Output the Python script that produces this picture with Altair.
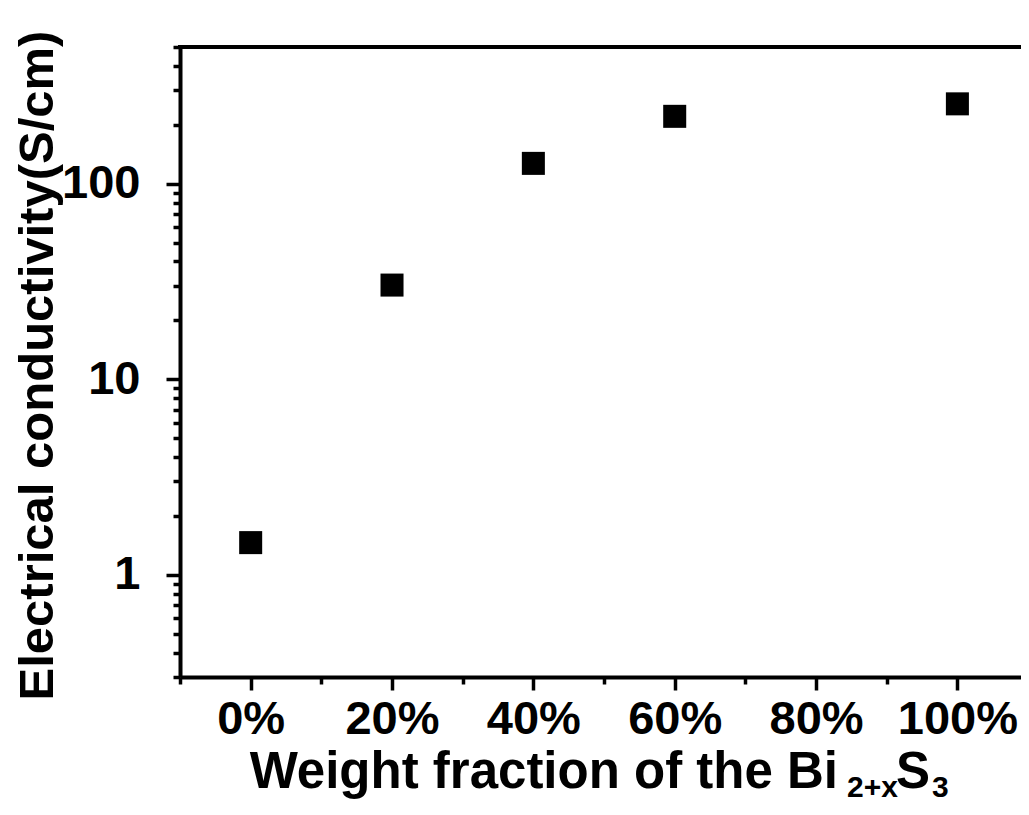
import altair as alt
import pandas as pd

# Data
fractions = [0, 20, 40, 60, 100]            # weight fraction of Bi2+xS3 (%)
conductivity = [1.46, 30.3, 127, 221, 256]  # S/cm

x_major = [0, 20, 40, 60, 80, 100]
x_minor = [-10, 10, 30, 50, 70, 90]
y_major = [1, 10, 100]
y_minor = [0.3, 0.4, 0.5, 0.6, 0.7, 0.8, 0.9,
           2, 3, 4, 5, 6, 7, 8, 9,
           20, 30, 40, 50, 60, 70, 80, 90,
           200, 300, 400, 500]

y_title = "Electrical conductivity(S/cm)"
title_main = "Weight fraction of the Bi"
title_sub1 = "2+x"
title_s = "S"
title_sub2 = "3"

FONT = "Liberation Sans"
W, H = 841, 630

df = pd.DataFrame({"x": fractions, "y": conductivity})

xscale = alt.Scale(domain=[-10, 109], nice=False, zero=False)
yscale = alt.Scale(type="log", domain=[0.3, 500], nice=False)

points = alt.Chart(df).mark_point(
    shape="square", filled=True, color="black", size=530, opacity=1
).encode(
    x=alt.X("x:Q", scale=xscale, axis=alt.Axis(
        orient="bottom", values=x_major, format="d",
        labelExpr="datum.value + '%'",
        tickSize=13, tickWidth=3.5, tickColor="black",
        domainWidth=4, domainColor="black",
        labelFont=FONT, labelFontSize=47, labelFontWeight="bold", labelColor="black",
        labelPadding=6, grid=False, title=None, labelFlush=False,
    )),
    y=alt.Y("y:Q", scale=yscale, axis=alt.Axis(
        orient="left", values=y_major,
        labelExpr="'' + datum.value",
        tickSize=14, tickWidth=3.5, tickColor="black",
        domainWidth=4, domainColor="black",
        labelFont=FONT, labelFontSize=47, labelFontWeight="bold", labelColor="black",
        labelPadding=26, grid=False, labelFlush=False,
        title=y_title,
        titleFont=FONT, titleFontSize=49, titleFontWeight="bold", titleColor="black",
        titleAngle=270, titleX=-128, titleY=H / 2 + 3,
        titleAlign="center", titleBaseline="alphabetic",
    )),
)

minor = alt.Chart(df).mark_point(opacity=0).encode(
    x=alt.X("x:Q", scale=xscale, axis=alt.Axis(
        orient="bottom", values=x_minor, labels=False, domain=False,
        tickSize=7, tickWidth=3.5, tickColor="black", grid=False, title=None,
    )),
    y=alt.Y("y:Q", scale=yscale, axis=alt.Axis(
        orient="left", values=y_minor, labels=False, domain=False,
        tickSize=7, tickWidth=3.5, tickColor="black", grid=False, title=None,
    )),
)

top_border = alt.Chart(pd.DataFrame({"a": [0]})).mark_rule(
    color="black", strokeWidth=4
).encode(x=alt.value(-2), x2=alt.value(W), y=alt.value(0))

def txt(s, xpos, ypos, size, align="left"):
    return alt.Chart(pd.DataFrame({"t": [s]})).mark_text(
        font=FONT, fontSize=size, fontWeight="bold", color="black",
        align=align, baseline="alphabetic"
    ).encode(text="t:N", x=alt.value(xpos), y=alt.value(ypos))

t1 = txt(title_main, 658, 741, 51, align="right")
t2 = txt(title_sub1, 667, 750, 30)
t3 = txt(title_s, 716, 741, 51)
t4 = txt(title_sub2, 752, 750, 30)

chart = alt.layer(top_border, minor, points, t1, t2, t3, t4).resolve_axis(
    x="independent", y="independent"
).properties(
    width=W, height=H,
    autosize=alt.AutoSizeParams(type="none"),
    padding={"left": 172, "top": 39, "right": 0, "bottom": 127},
).configure_view(stroke="#666666", strokeWidth=1).configure(background="white")

chart.save("out.html", embed_options={"renderer": "svg", "actions": False})
